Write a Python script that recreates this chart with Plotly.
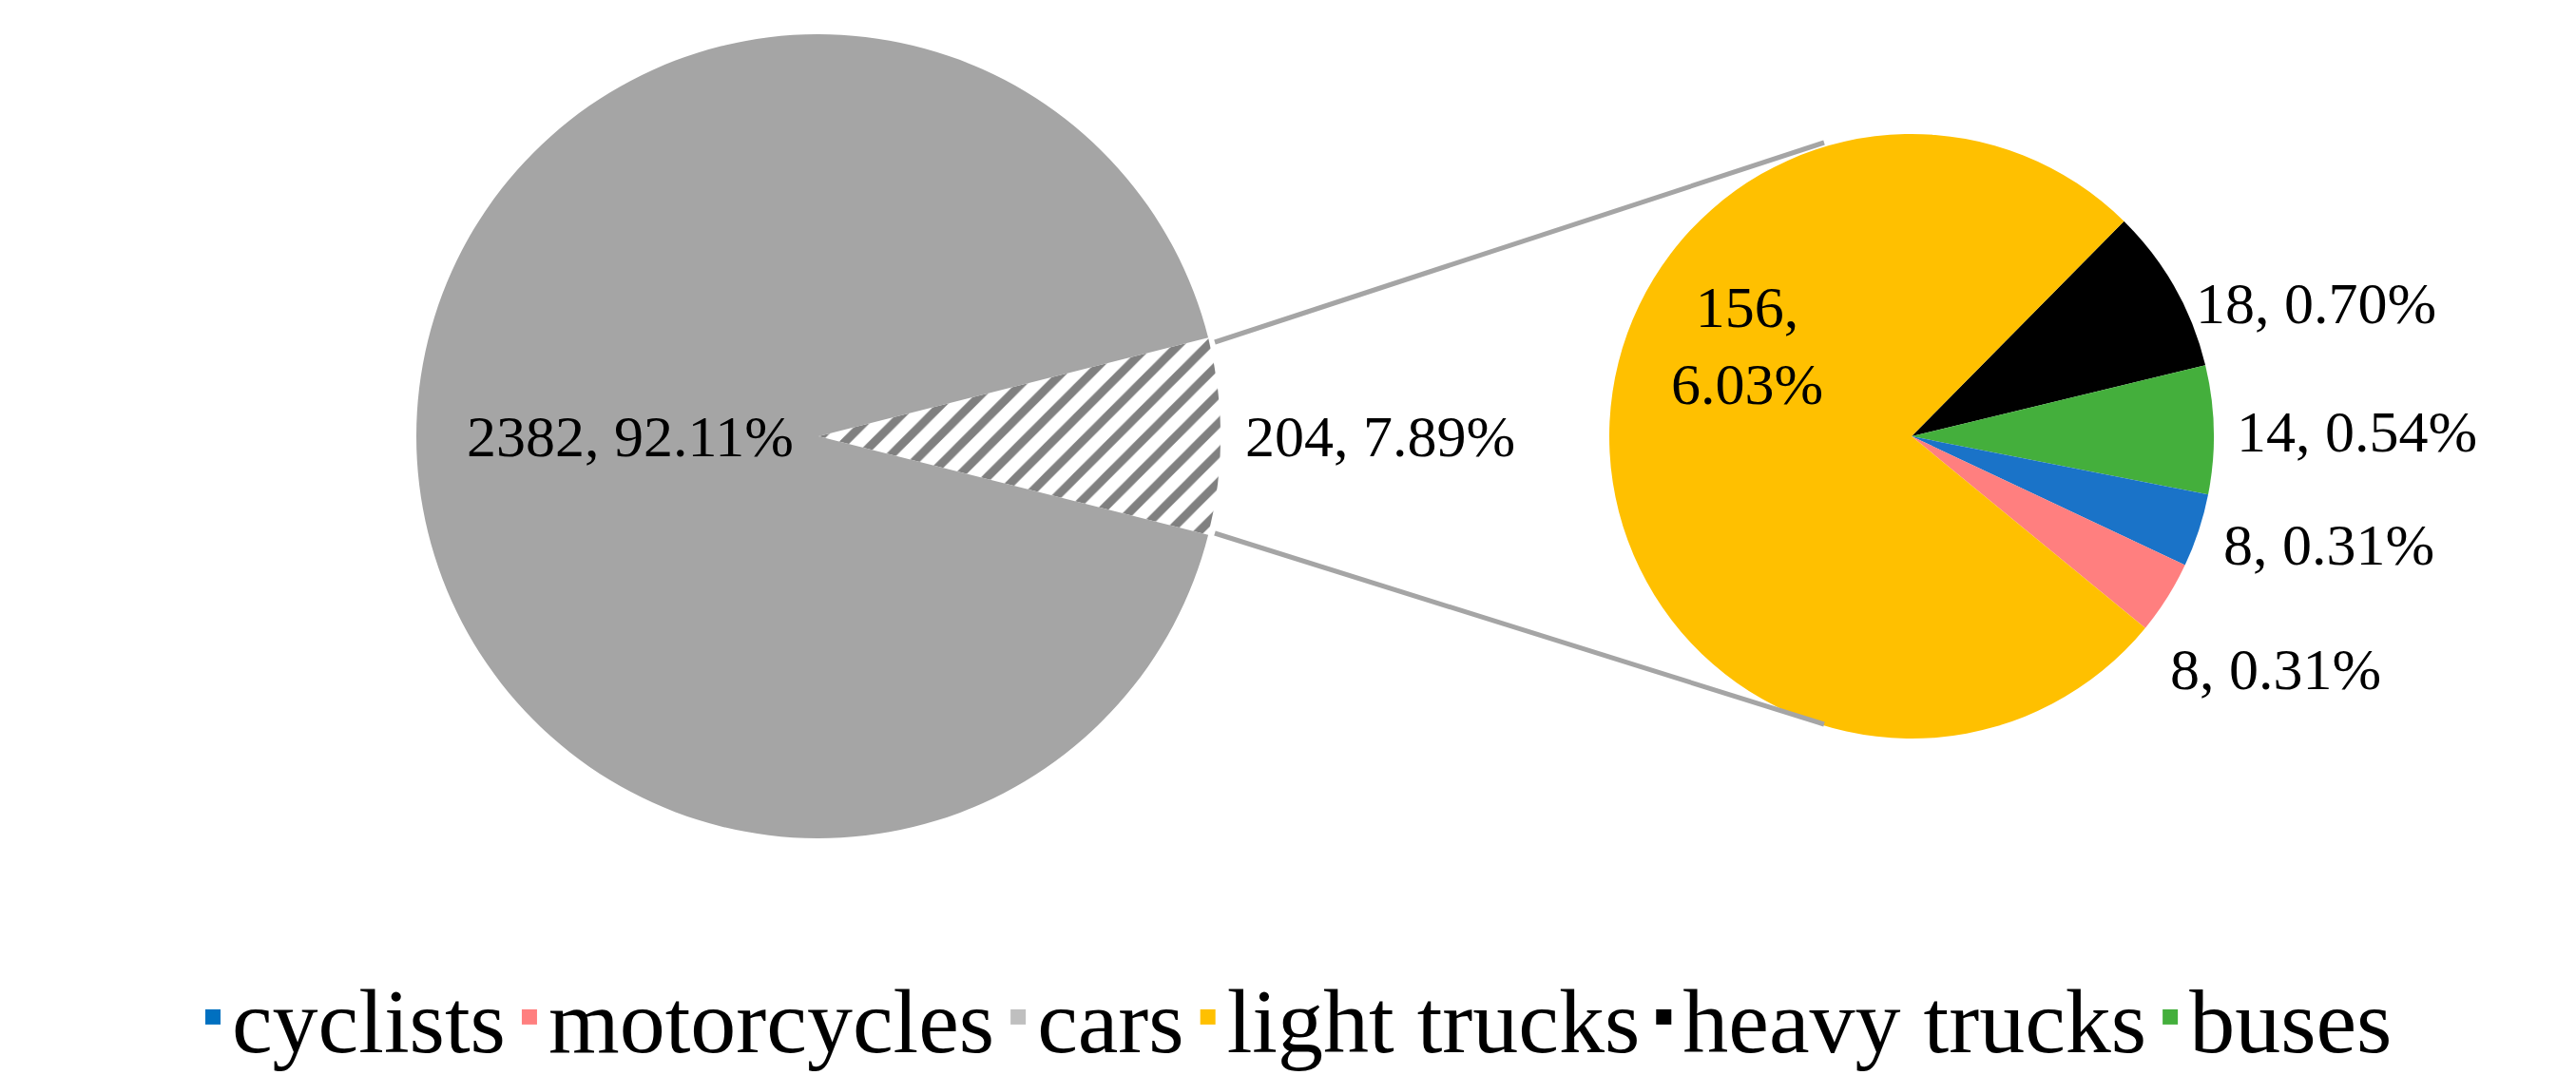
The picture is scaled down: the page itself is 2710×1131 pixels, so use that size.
import plotly.graph_objects as go

W, H = 2710, 1131
main_labels = ["other", "cars"]
main_values = [204, 2382]
sub_labels = ["heavy trucks", "buses", "cyclists", "motorcycles", "light trucks"]
sub_values = [18, 14, 8, 8, 156]
sub_colors = ["#000000", "#44AF3C", "#1A73C8", "#FF7F7F", "#FFC000"]
legend_labels = ["cyclists", "motorcycles", "cars", "light trucks", "heavy trucks", "buses"]
legend_colors = ["#0070C0", "#FF7F7F", "#BFBFBF", "#FFC000", "#000000", "#44AF3C"]
total = sum(main_values)

def px(x): return x / W
def py(y): return 1 - y / H

fig = go.Figure()
other_deg = main_values[0] / total * 360
fig.add_trace(go.Pie(labels=main_labels, values=main_values, sort=False, direction="clockwise",
                     rotation=90 - other_deg / 2, textinfo="none", showlegend=False, hoverinfo="label+value",
                     marker=dict(colors=["white", "#A5A5A5"],
                                 pattern=dict(shape=["/", ""], fgcolor="#808080", bgcolor="white", size=22, solidity=0.4)),
                     domain=dict(x=[px(430), px(1276)], y=[py(874), py(28)])))
sub_small = sum(sub_values[:-1]) / sum(sub_values) * 360
fig.add_trace(go.Pie(labels=sub_labels, values=sub_values, sort=False, direction="clockwise",
                     rotation=90 - sub_small / 2 - 3, textinfo="none", showlegend=False,
                     marker=dict(colors=sub_colors),
                     domain=dict(x=[px(1685), px(2321)], y=[py(769), py(133)])))
for lab, col in zip(legend_labels, legend_colors):
    fig.add_trace(go.Scatter(x=[None], y=[None], mode="markers", name=lab,
                             marker=dict(symbol="square", size=40, color=col)))

fig.add_shape(type="line", xref="paper", yref="paper", x0=px(1270), y0=py(352), x1=px(1911), y1=py(142),
              line=dict(color="#A5A5A5", width=5))
fig.add_shape(type="line", xref="paper", yref="paper", x0=px(1270), y0=py(553), x1=px(1911), y1=py(754),
              line=dict(color="#A5A5A5", width=5))

def pct(v): return f"{v / total * 100:.2f}%"
anns = [
    (f"{main_values[1]}, {pct(main_values[1])}", 655, 451, "center"),
    (f"{main_values[0]}, {pct(main_values[0])}", 1300, 451, "left"),
    (f"{sub_values[4]},<br>{pct(sub_values[4])}", 1830, 355, "center"),
    (f"{sub_values[0]}, {pct(sub_values[0])}", 2300, 311, "left"),
    (f"{sub_values[1]}, {pct(sub_values[1])}", 2343, 446, "left"),
    (f"{sub_values[2]}, {pct(sub_values[2])}", 2329, 565, "left"),
    (f"{sub_values[3]}, {pct(sub_values[3])}", 2273, 696, "left"),
]
for t, x, y, xa in anns:
    fig.add_annotation(text=t, x=px(x), y=py(y), xref="paper", yref="paper", showarrow=False,
                       xanchor=xa, yanchor="middle", font=dict(size=62, color="black"), align="center")

fig.update_layout(width=W, height=H, margin=dict(l=0, r=0, t=0, b=0), paper_bgcolor="white",
                  plot_bgcolor="white", font=dict(family="Liberation Serif", color="black"),
                  xaxis=dict(visible=False), yaxis=dict(visible=False),
                  legend=dict(orientation="h", x=0.5, xanchor="center", y=py(1062), yanchor="middle",
                              font=dict(size=96), itemwidth=30, tracegroupgap=0))
fig.write_html("out.html")
